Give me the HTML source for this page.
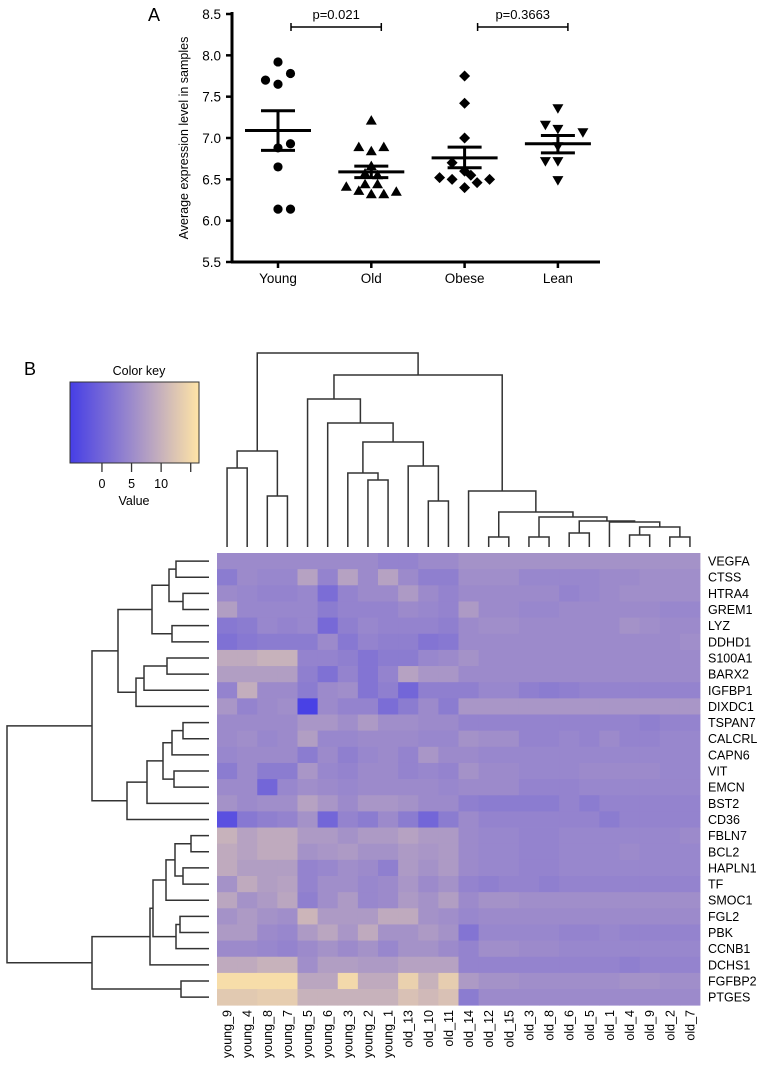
<!DOCTYPE html>
<html><head><meta charset="utf-8"><style>
body{margin:0;background:#fff}
svg{display:block;font-family:"Liberation Sans",Arial,sans-serif}
</style></head><body>
<svg id="fig" width="765" height="1069" viewBox="0 0 765 1069">
<text x="148" y="21" font-size="18">A</text>
<text x="24" y="375" font-size="18">B</text>
<g id="pa"></g>
<g id="pb"></g>
</svg>
<script>
// ---------- Panel A data ----------
const groups = ["Young","Old","Obese","Lean"];
const yTicks = [5.5,6.0,6.5,7.0,7.5,8.0,8.5];
const youngVals = [7.92,7.78,7.70,7.65,6.93,6.88,6.65,6.14,6.14];
const youngJit  = [0,1,-1,0,1,0,0,0,1];
const oldVals = [7.21,6.89,6.89,6.84,6.66,6.57,6.55,6.44,6.44,6.41,6.36,6.35,6.32,6.32];
const oldJit  = [0,-1,1,0,0,-0.5,0.5,-0.5,0.5,-2,-1,2,0,1];
const obeseVals = [7.75,7.42,7.00,6.70,6.60,6.52,6.50,6.55,6.46,6.50,6.40];
const obeseJit  = [0,0,0,-1,0,-2,-1,0.5,1,2,0];
const leanVals = [7.36,7.16,7.11,7.07,6.90,6.72,6.72,6.49];
const leanJit  = [0,-1,0,2,0,-1,0,0];
const means = [7.09,6.59,6.76,6.93];
const semHi = [7.33,6.66,6.89,7.03];
const semLo = [6.85,6.52,6.64,6.82];
const pLabels = ["p=0.021","p=0.3663"];
const pPairs = [[0,1],[2,3]];

// ---------- Panel B data ----------
const genes = ["VEGFA","CTSS","HTRA4","GREM1","LYZ","DDHD1","S100A1","BARX2","IGFBP1","DIXDC1","TSPAN7","CALCRL","CAPN6","VIT","EMCN","BST2","CD36","FBLN7","BCL2","HAPLN1","TF","SMOC1","FGL2","PBK","CCNB1","DCHS1","FGFBP2","PTGES"];
const samples = ["young_9","young_4","young_8","young_7","young_5","young_6","young_3","young_2","young_1","old_13","old_10","old_11","old_14","old_12","old_15","old_3","old_8","old_6","old_5","old_1","old_4","old_9","old_2","old_7"];
const values = [
[5,5,5,5,5,5,5,5,4,4,5,5, 6,6,6,6,6,6,6,6,6,6,6,6],
[3,5,4.5,4.5,8,4,8,5,8,5,3.5,3.5, 5.5,5.5,5.5,4.5,4.5,4.5,4.5,5,5,5.5,5.5,5.5],
[5,4.5,4,4,4.5,1,4,5,5,7,5,4, 5,5,5,5,5,4,4.5,5,5.5,5.5,5.5,5.5],
[7.5,4.5,4.5,4.5,4.5,3,4,4,4,5,4.5,4, 7,5,5,4.5,4.5,5,5,5,5,5,4.5,4.5],
[2.5,3,4.5,4,4.5,0.5,3.5,4.5,4,4,4,3.5, 5,5.5,5.5,5,5,5,5,5,6,5.5,5,5],
[1.5,2.5,3,3,3,5,2.5,4,3.5,3.5,2,2.5, 5,5,5,5,5,5,5,5,5,5,5,5.5],
[9,9,10,10,4,4,3.5,2,3,3,4.5,5, 6,5,5,5,5,5,5,5,5,5,5,5],
[7.5,7.5,7.5,7.5,3.5,1.5,4,2,4,8,6.5,6.5, 5,5,5,5,5,5,5,5,5,5,5,5],
[4,9.5,5,5,3,5,5.5,2,3.5,0,3.5,3.5, 3.5,4.5,4.5,3.5,3,3.5,4,4,4,4,4,4],
[6.5,4,5,5.5,-5,5,4,4,1,3,5,3, 6.5,6.5,6.5,6.5,6.5,6.5,6.5,6.5,6.5,6.5,6.5,6.5],
[5,5,5,5,6.5,6.5,5.5,7,5.5,5.5,5,5, 4,4,4,4,4,4,4,4,4,3.5,4,4],
[5,5.5,4.5,5,7.5,4.5,4.5,5,5,5,4.5,4.5, 6,5.5,5.5,4,4,4.5,4,5,4,4,4.5,4.5],
[4.5,5,5,5,3,5,3.5,4.5,5,4,6.5,5, 5,4.5,4.5,4.5,4.5,4.5,4.5,4.5,4.5,4.5,4.5,4.5],
[3,5,3,3,6.5,4.5,4,5,5,4,4.5,4, 6,5,5,4.5,4.5,4.5,5,5,5,5,4.5,4.5],
[5,5,0,4.5,5.5,5,4.5,5,5,5,5,4.5, 5,5,5,4,4,4,4.5,4.5,4.5,4.5,4.5,4.5],
[6,5,5.5,5.5,8,6.5,5,6.5,6.5,6,5,5, 3.5,3,3,3,3,4,3,4,4,4,4,4],
[-3,2.5,3.5,4,6,0,4,3,5,3,0,3, 5,4,4,4,4,4,4,3,4,4,4,4],
[10,8,9,9,7,7,6,7,7,8,7,7, 5,4.5,4.5,4,4,4.5,4.5,4.5,4.5,4.5,4.5,5],
[9,8,9,9,6,6.5,7,6,6,7,6.5,7, 5,4.5,4.5,4,4,4.5,4.5,4.5,5,4.5,4.5,4.5],
[9,7.5,7.5,7.5,4,4.5,5.5,5,3.5,7,6,7, 5,4.5,4.5,4,4,4.5,4.5,4.5,4.5,4.5,4.5,4.5],
[6,9,7.5,8,4,5.5,5.5,4.5,5,6.5,5,6, 4,3.5,4,4,3.5,4,4,4,4,4,4,4],
[8.5,6,7,8.5,3.5,5.5,7,4.5,5,7,6,7.5, 5,6,6,5.5,5.5,5.5,5.5,5.5,5.5,5.5,5.5,5.5],
[6,7,6,5.5,10.5,7,7,7,9,9,6,5.5, 4.5,5,5,5,5,5,5,5,5,5,5,5],
[7,7,5,4.5,7,8.5,6.5,9,6,6,7,6, 2,4.5,4.5,4.5,4.5,4,4,4.5,4,4,4,4],
[5,5,4.5,4,5,6,5,6,4.5,6,6,5, 4,5.5,5.5,5,5,4.5,4.5,4.5,4.5,4.5,4.5,4.5],
[9,9,10,10,5.5,7.5,7.5,7,7,8,8,8, 4,4,4,4,4,4,4,4,3.5,4,4,4],
[15.5,15.5,15.5,15.5,8.5,8.5,15,9,9,14,10,13.5, 7,6,6,5.5,5.5,5.5,5.5,5.5,6,6,5.5,5.5],
[13,13,13.5,13.5,10,10,10,10,10,12,11,12, 3,5,5,5,5,5,5,5,5,5,5,5]
];
const keyTicks = [0,5,10,15];
const keyTickLabels = ["0","5","10",""];
// dendrogram merges: [left, right, height]; leaves are indices, nodes "n#"
const colMerges = [
 [0,1,79],[2,3,51],["n0","n1",96],
 [7,8,67],[6,"n3",74],[10,11,46],[9,"n5",81],["n4","n6",105],[5,"n7",124],[4,"n8",148],
 [13,14,10],[15,16,10],[17,18,14],[20,21,12],[22,23,10],
 ["n13","n14",20],[19,"n15",25],["n12","n16",26],["n11","n17",30],["n10","n18",35],[12,"n19",56],
 ["n9","n20",172],["n2","n21",194]
];
const rowMerges = [
 [0,1,33],[2,3,26],["n0","n1",40],[4,5,37],["n2","n3",57],
 [6,7,42],["n5",8,65],["n6",9,73],["n4","n7",91],
 [10,11,26],["n9",12,37],[13,14,35],["n10","n11",46],["n12",15,62],["n13",16,82],["n8","n14",117],
 [17,18,18],[19,20,26],["n16","n17",34],["n18",21,43],[22,23,29],["n20",24,33],["n19","n21",56],["n22",25,59],[26,27,28],["n23","n24",117],
 ["n15","n25",202]
];

const NS="http://www.w3.org/2000/svg";
function mk(parent,tag,attrs){const e=document.createElementNS(NS,tag);for(const k in attrs)e.setAttribute(k,attrs[k]);parent.appendChild(e);return e;}

// ---------- Panel A ----------
const pa=document.getElementById('pa');
const yA=v=>262-(v-5.5)*(248/3);
const xA=i=>278+i*93.3;
const JIT=12.5;
let ax=mk(pa,'line',{x1:232,y1:12,x2:232,y2:262,stroke:'#000','stroke-width':3});


ax=mk(pa,'line',{x1:231,y1:262,x2:600,y2:262,stroke:'#000','stroke-width':3});


yTicks.forEach(t=>{
  const y=yA(t);
  const l=mk(pa,'line',{x1:226,y1:y,x2:232,y2:y,stroke:'#000','stroke-width':2.5});
  
  
  const tx=mk(pa,'text',{x:221,y:y+5,'font-size':13.5,'text-anchor':'end'});
  tx.textContent=t.toFixed(1);
  
  
});
let yt=mk(pa,'text',{x:0,y:0,'font-size':12.5,'text-anchor':'middle',transform:'translate(188,138) rotate(-90)'});
yt.textContent='Average expression level in samples';


groups.forEach((g,i)=>{
  const x=xA(i);
  const l=mk(pa,'line',{x1:x,y1:262,x2:x,y2:268,stroke:'#000','stroke-width':2.5});
  
  
  const t=mk(pa,'text',{x:x,y:283,'font-size':13.5,'text-anchor':'middle'});
  t.textContent=g;
  
  
});
const allVals=[youngVals,oldVals,obeseVals,leanVals];
const allJit=[youngJit,oldJit,obeseJit,leanJit];
function marker(shape,cx,cy){
  if(shape===0) return mk(pa,'circle',{cx:cx,cy:cy,r:4.6,fill:'#000'});
  if(shape===1) return mk(pa,'polygon',{points:`${cx},${cy-5.5} ${cx+5.5},${cy+4} ${cx-5.5},${cy+4}`,fill:'#000'});
  if(shape===2) return mk(pa,'polygon',{points:`${cx},${cy-5.5} ${cx+5.5},${cy} ${cx},${cy+5.5} ${cx-5.5},${cy}`,fill:'#000'});
  return mk(pa,'polygon',{points:`${cx},${cy+5.5} ${cx+5.5},${cy-4} ${cx-5.5},${cy-4}`,fill:'#000'});
}
allVals.forEach((vals,gi)=>{
  vals.forEach((v,k)=>{
    const m=marker(gi,xA(gi)+allJit[gi][k]*JIT,yA(v));
    
    
  });
  const x=xA(gi);
  let l=mk(pa,'line',{x1:x-33,y1:yA(means[gi]),x2:x+33,y2:yA(means[gi]),stroke:'#000','stroke-width':3});
  
  
  l=mk(pa,'line',{x1:x,y1:yA(semHi[gi]),x2:x,y2:yA(semLo[gi]),stroke:'#000','stroke-width':3});
  
  
  [semHi[gi],semLo[gi]].forEach(s=>{
    const c=mk(pa,'line',{x1:x-17,y1:yA(s),x2:x+17,y2:yA(s),stroke:'#000','stroke-width':3});
    
    
  });
});
pPairs.forEach((p,i)=>{
  const x1=xA(p[0])+13,x2=xA(p[1])+10,y=27;
  const b=mk(pa,'path',{d:`M${x1},${y-4}V${y+4}M${x1},${y}H${x2}M${x2},${y-4}V${y+4}`,stroke:'#000','stroke-width':1.5,fill:'none'});
  
  
  const t=mk(pa,'text',{x:(x1+x2)/2,y:19,'font-size':13,'text-anchor':'middle'});
  t.textContent=pLabels[i];
  
  
});

// ---------- Panel B ----------
const pb=document.getElementById('pb');
const HX=217,HY=553,CW=20.125,RH=16.15;
const VMIN=-5.4,VMAX=16.4;
const cLo=[70,62,230],cMid=[160,142,202],cHi=[255,228,166];
function col(v){
  const t=Math.max(0,Math.min(1,(v-VMIN)/(VMAX-VMIN)));
  let a,b,u;
  if(t<0.5){a=cLo;b=cMid;u=t/0.5;}else{a=cMid;b=cHi;u=(t-0.5)/0.5;}
  return `rgb(${a.map((x,i)=>Math.round(x+(b[i]-x)*u)).join(',')})`;
}
values.forEach((row,r)=>row.forEach((v,c)=>{
  const e=mk(pb,'rect',{x:HX+c*CW,y:HY+r*RH,width:CW+0.4,height:RH+0.4,fill:col(v)});
  
  
}));
genes.forEach((g,r)=>{
  const t=mk(pb,'text',{x:708,y:HY+(r+0.5)*RH+4.5,'font-size':12.5});
  t.textContent=g;
  
  
});
samples.forEach((s,c)=>{
  const x=HX+(c+0.5)*CW+4.5;
  const t=mk(pb,'text',{x:0,y:0,'font-size':12.5,'text-anchor':'end',transform:`translate(${x},1010) rotate(-90)`});
  t.textContent=s;
  
  
});
// dendrograms
function dendro(merges,leafPos,toPt,name){
  const pos=[],hgt=[];
  let d='';
  const get=k=>typeof k==='number'?[leafPos(k),0]:[pos[+k.slice(1)],hgt[+k.slice(1)]];
  merges.forEach((m,i)=>{
    const [p1,h1]=get(m[0]),[p2,h2]=get(m[1]),h=m[2];
    const a=toPt(p1,h1),b=toPt(p1,h),c=toPt(p2,h),e=toPt(p2,h2);
    d+=`M${a[0]},${a[1]}L${b[0]},${b[1]}L${c[0]},${c[1]}L${e[0]},${e[1]}`;
    pos[i]=(p1+p2)/2;hgt[i]=h;
  });
  const p=mk(pb,'path',{d:d,stroke:'#333','stroke-width':1.5,fill:'none'});
  
  
}
dendro(colMerges,c=>HX+(c+0.5)*CW,(p,h)=>[p,547-h],'column-dendrogram');
dendro(rowMerges,r=>HY+(r+0.5)*RH,(p,h)=>[209-h,p],'row-dendrogram');
// color key
const defs=mk(pb,'defs',{});
const lg=mk(defs,'linearGradient',{id:'kg',x1:0,x2:1,y1:0,y2:0});
for(let i=0;i<=10;i++){mk(lg,'stop',{offset:i/10,'stop-color':col(VMIN+(VMAX-VMIN)*i/10)});}
const kx=70,kw=129;
let kt=mk(pb,'text',{x:139,y:375,'font-size':12.5,'text-anchor':'middle'});
kt.textContent='Color key';


let kr=mk(pb,'rect',{x:kx,y:382,width:kw,height:81,fill:'url(#kg)',stroke:'#333','stroke-width':1});


keyTicks.forEach((v,i)=>{
  const x=kx+(v-VMIN)/(VMAX-VMIN)*kw;
  const l=mk(pb,'line',{x1:x,y1:463,x2:x,y2:472,stroke:'#333','stroke-width':1.3});
  
  
  const t=mk(pb,'text',{x:x,y:488,'font-size':12.5,'text-anchor':'middle'});
  t.textContent=keyTickLabels[i];
  
  
});
kt=mk(pb,'text',{x:134,y:505,'font-size':12.5,'text-anchor':'middle'});
kt.textContent='Value';


</script>
</body></html>
